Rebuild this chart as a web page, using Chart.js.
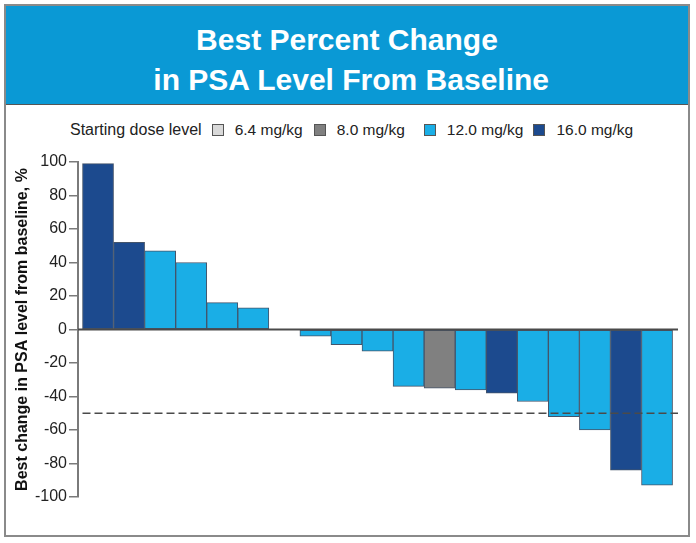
<!DOCTYPE html>
<html>
<head>
<meta charset="utf-8">
<script src="https://cdn.jsdelivr.net/npm/chart.js@4.4.1/dist/chart.umd.min.js"></script>
<style>
  body { margin: 0; width: 696px; height: 543px; background: #fff; position: relative; overflow: hidden;
         font-family: "Liberation Sans", Arial, sans-serif; }
  #frame { position: absolute; left: 4px; top: 4px; width: 682px; height: 529px; border: 2px solid #8a8a8a; }
  #band { position: absolute; left: 0; top: 0; width: 682px; height: 99px; background: #0a99d5;
          border-bottom: 1px solid #555; color: #fff; font-weight: bold; font-size: 30px;
          text-align: center; line-height: 40px; padding-top: 14px; box-sizing: border-box; }
  #legend { position: absolute; left: 70px; top: 121px; font-size: 15.5px; color: #222; display: flex;
            align-items: center; white-space: nowrap; }
  .sw { display: inline-block; width: 10px; height: 10px; border: 1px solid #555; margin-right: 11px; }
  #chartBox { position: absolute; left: 0; top: 0; width: 696px; height: 543px; }
</style>
</head>
<body>
<div id="frame">
  <div id="band">Best Percent Change<br>&nbsp;in PSA Level From Baseline</div>
</div>
<div id="legend"></div>
<div id="chartBox"><canvas id="waterfall" width="696" height="543"></canvas></div>

<script>
// patients, sorted by best change (one had no value)
const patients = ['1','2','3','4','5','6','7','8','9','10','11','12','13','14','15','16','17','18','19'];
const bestChange = [99, 52, 47, 40, 16, 13, null, -4, -9, -13, -34, -35, -36, -38, -43, -52, -60, -84, -93];
const doseOf = ['16.0','16.0','12.0','12.0','12.0','12.0',null,'12.0','12.0','12.0','12.0','8.0','12.0','16.0','12.0','12.0','12.0','16.0','12.0'];

const doseLevels = ['6.4', '8.0', '12.0', '16.0'];
const doseColors = ['#d9d9d9', '#808080', '#1aaee6', '#1c4a8e'];
const yTicks = { min: -100, max: 100, step: 20 };
const refLine = -50;

// legend up top, plain html
const legendDiv = document.getElementById('legend');
let html = '<span style="margin-right:10px;font-size:16px">Starting dose level</span>';
doseLevels.forEach((d, i) => {
    const gap = i === 0 ? 11 : (i === 1 ? 19 : 10);
    html += '<span class="sw" style="background:' + doseColors[i] + '"></span>'
          + '<span style="margin-right:' + gap + 'px">' + d + ' mg/kg</span>';
});
legendDiv.innerHTML = html;

// one dataset per dose, stacked so each bar sits in its own slot
const datasets = doseLevels.map((d, i) => ({
    label: d + ' mg/kg',
    data: bestChange.map((v, k) => doseOf[k] === d ? v : null),
    backgroundColor: doseColors[i],
    borderColor: '#44546a',
    borderWidth: 1,
    borderSkipped: false,
    categoryPercentage: 1,
    barPercentage: 1
}));

// zero line + dashed -50 line drawn on top of bars
const linesPlugin = {
    id: 'lines',
    afterDatasetsDraw(chart) {
        const ctx = chart.ctx;
        const x = chart.scales.x;
        const y = chart.scales.y;
        const area = chart.chartArea;
        ctx.save();
        ctx.strokeStyle = '#4a4a4a';
        ctx.lineWidth = 2;
        ctx.beginPath();
        ctx.moveTo(area.left, y.getPixelForValue(0));
        ctx.lineTo(area.right, y.getPixelForValue(0));
        ctx.stroke();
        ctx.lineWidth = 1.6;
        ctx.setLineDash([8, 4]);
        ctx.beginPath();
        ctx.moveTo(x.getPixelForValue(0.5), y.getPixelForValue(refLine));
        ctx.lineTo(area.right, y.getPixelForValue(refLine));
        ctx.stroke();
        ctx.restore();
    }
};

new Chart(document.getElementById('waterfall'), {
    type: 'bar',
    data: { labels: patients, datasets: datasets },
    plugins: [linesPlugin],
    options: {
        responsive: false,
        animation: false,
        devicePixelRatio: 1,
        layout: { padding: { left: 13, right: 18, top: 162, bottom: 46 } },
        plugins: { legend: { display: false }, tooltip: { enabled: false } },
        scales: {
            // linear x so the bars can sit a few px in from the y axis
            x: { type: 'linear', display: false, stacked: true, offset: false, min: 0.355, max: 19.675 },
            y: {
                stacked: true,
                min: yTicks.min,
                max: yTicks.max,
                afterFit: function (scale) { scale.width = 65; },
                border: { display: true, color: '#7a7a7a', width: 2 },
                grid: { drawOnChartArea: false, drawTicks: true, tickLength: 9, color: '#7a7a7a', lineWidth: 1.5 },
                ticks: { stepSize: yTicks.step, color: '#222', padding: 2,
                         font: { family: '"Liberation Sans", Arial', size: 16 } },
                title: {
                    display: true,
                    text: 'Best change in PSA level from baseline, %',
                    color: '#111',
                    padding: 0,
                    font: { family: '"Liberation Sans", Arial', size: 16, weight: 'bold' }
                }
            }
        }
    }
});
</script>
</body>
</html>
